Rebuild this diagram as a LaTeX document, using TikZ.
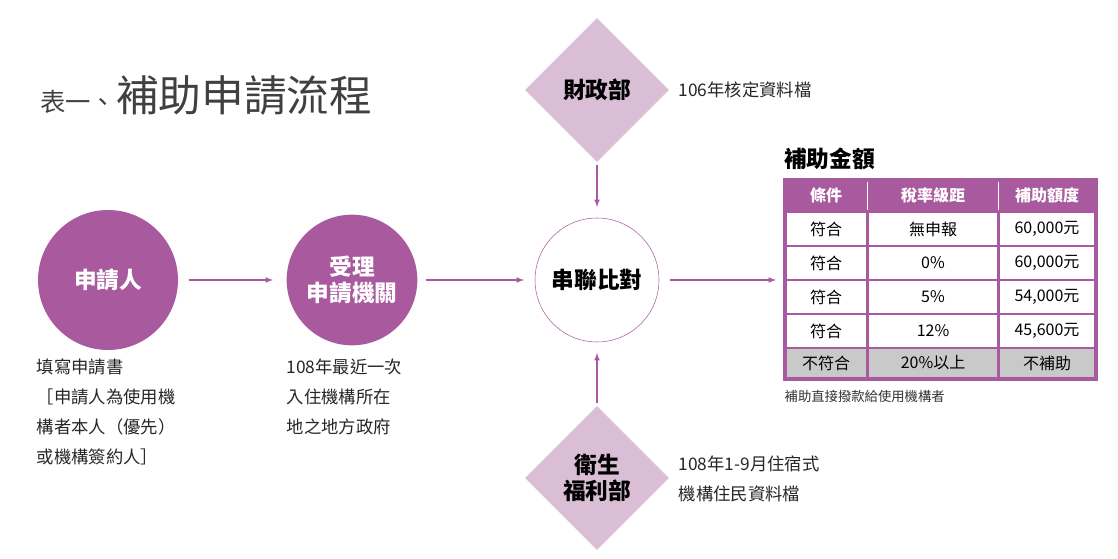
\documentclass[tikz,border=0pt]{standalone}
\usepackage{fontspec}
\setmainfont{Liberation Serif}
\newfontfamily\cjk{Noto Sans CJK TC}
\usetikzlibrary{shapes.geometric}
\definecolor{pp}{HTML}{A95A9F}
\definecolor{lp}{HTML}{D9BED6}
\definecolor{gy}{HTML}{C9C9C9}
\tikzset{
  pc/.style={circle, fill=pp, text=white, font=\cjk\bfseries\fontsize{17}{20}\selectfont, align=center},
  dm/.style={diamond, fill=lp, minimum size=108pt, inner sep=0pt, font=\cjk\bfseries\fontsize{17}{20}\selectfont, align=center},
  ar/.style={-latex, pp, line width=0.9pt},
  nt/.style={anchor=west, font=\cjk\fontsize{13}{22.5}\selectfont, align=left, text=black!85},
  cl/.style={font=\cjk\fontsize{12}{14}\selectfont},
  hd/.style={font=\cjk\bfseries\fontsize{12}{14}\selectfont, text=white}
}
\begin{document}
\begin{tikzpicture}[x=0.75pt, y=-0.75pt]
\useasboundingbox (0,0) rectangle (1118,559);

% title
\node[anchor=base west, inner sep=0pt, text=black!75] (title) at (40,112)
  {\cjk\fontsize{19}{20}\selectfont 表一、\fontsize{32}{34}\selectfont 補助申請流程};

% flow
\node[pc, minimum size=105pt] (app) at (108,280) {申請人};
\node[pc, minimum size=98pt] (agency) at (352,280) {受理\\申請機關};
\node[circle, draw=pp, fill=white, minimum size=93pt, font=\cjk\bfseries\fontsize{17}{20}\selectfont] (match) at (597,280) {串聯比對};
\node[dm] (mof) at (597,90) {財政部};
\node[dm] (mohw) at (597,478) {衛生\\福利部};
\coordinate (tbl) at (776,280);

\draw[ar] ([xshift=8pt]app.east) -- ([xshift=-10pt]agency.west);
\draw[ar] ([xshift=6pt]agency.east) -- ([xshift=-8pt]match.west);
\draw[ar] ([xshift=8pt]match.east) -- (tbl);
\draw[ar] ([yshift=-2pt]mof.south) -- ([yshift=8pt]match.north);
\draw[ar] ([yshift=2pt]mohw.north) -- ([yshift=-8pt]match.south);

% notes
\node[nt] (n1) at (32,412) {填寫申請書\\［申請人為使用機\\構者本人（優先）\\或機構簽約人］};
\node[nt] (n2) at (282,397) {108年最近一次\\入住機構所在\\地之地方政府};
\node[nt] (n3) at (674,90) {106年核定資料檔};
\node[nt] (n4) at (674,479) {108年1-9月住宿式\\機構住民資料檔};

% table
\node[anchor=base west, inner sep=0pt, font=\cjk\bfseries\fontsize{17}{20}\selectfont] (ttl) at (784,168) {補助金額};
\fill[pp] (783,178) rectangle (1098,381);
\foreach \r/\a/\b [count=\i] in {符合/無申報/{60,000元}, 符合/0\%/{60,000元}, 符合/5\%/{54,000元}, 符合/12\%/{45,600元}}{
  \pgfmathsetmacro\yt{178+34*\i+1}
  \fill[white] (787,\yt) rectangle (866,\yt+32);
  \fill[white] (869,\yt) rectangle (997,\yt+32);
  \fill[white] (1000,\yt) rectangle (1094,\yt+32);
  \node[cl] at (826,\yt+16) {\r};
  \node[cl] at (933,\yt+16) {\a};
  \node[cl] at (1047,\yt+16) {\b};
}
\fill[gy] (787,349) rectangle (866,377);
\fill[gy] (869,349) rectangle (997,377);
\fill[gy] (1000,349) rectangle (1094,377);
\node[cl] at (826,363) {不符合};
\node[cl] at (933,363) {20\%以上};
\node[cl] at (1047,363) {不補助};
\draw[white, line width=0.6pt] (867.5,182) -- (867.5,210) (998.5,182) -- (998.5,210);
\node[hd] at (826,195) {條件};
\node[hd] at (933,195) {稅率級距};
\node[hd] at (1047,195) {補助額度};
\node[anchor=west, font=\cjk\fontsize{10}{12}\selectfont, text=black!80] (foot) at (780,396) {補助直接撥款給使用機構者};
\end{tikzpicture}
\end{document}
